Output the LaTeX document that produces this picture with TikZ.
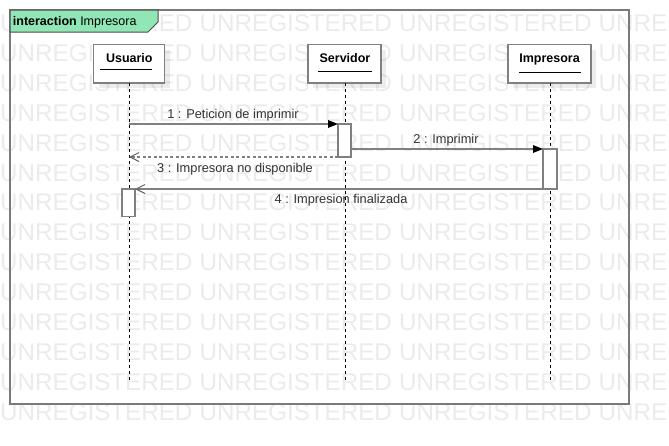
\documentclass[tikz,border=0pt]{standalone}
\usepackage{fontspec}
\setmainfont{Liberation Sans}
\usetikzlibrary{arrows.meta,shadows}
\definecolor{wmcol}{HTML}{EBEBEB}
\definecolor{hdr}{RGB}{144,230,180}
\definecolor{edge}{HTML}{808080}
\definecolor{lbl}{HTML}{333333}
\begin{document}
\begin{tikzpicture}[x=1pt,y=-1pt,
  wmark/.style={anchor=base west,inner sep=0pt,text=wmcol,font=\fontsize{24.2}{24}\selectfont},
  headbox/.style={draw=edge,line width=1.8pt,fill=white,inner sep=0pt,outer sep=0pt,minimum height=38.5pt,
    drop shadow={shadow xshift=5pt,shadow yshift=-5pt,opacity=0.07,fill=black}},
  headtext/.style={anchor=base,inner sep=0pt,font=\fontsize{12.5}{14}\selectfont\bfseries,text=black},
  uline/.style={draw=black,line width=0.9pt},
  life/.style={draw=black,line width=1pt,dash pattern=on 3pt off 3pt},
  actbox/.style={draw=edge,line width=1.8pt,fill=white,inner sep=0pt,outer sep=0pt},
  msg/.style={draw=edge,line width=1.5pt},
  filledtip/.style={-{Triangle[length=10pt,width=7.5pt,color=black]}},
  opentip/.style={-{Straight Barb[length=9pt,width=9pt,line width=1pt,color=lbl!80]}},
  msglabel/.style={anchor=base,inner sep=0pt,text=lbl,font=\fontsize{12.8}{14}\selectfont}]
\useasboundingbox (0,0) rectangle (669,445);
% watermark
\begin{scope}
\clip (0,0) rectangle (669,445);
\foreach \r in {0,...,13}{
  \foreach \c in {0,...,3}{
    \node[wmark] (wm-\r-\c) at (199.5*\c,31.5+29.9*\r) {UNREGISTERED};
  }
}
\end{scope}
% frame
\draw[draw=edge!95!black,line width=2pt] (10,10) rectangle (629,404);
\draw[fill=hdr,draw=black!70,line width=1pt] (10,10) -- (158,10) -- (158,22) -- (148,32) -- (10,32) -- cycle;
\node[anchor=base west,inner sep=0pt,font=\fontsize{12.5}{14}\selectfont] (title) at (12.7,25) {\textbf{interaction} Impresora};
% lifeline ends
\coordinate (uend) at (129,381);
\coordinate (send) at (345,381);
\coordinate (iend) at (550,381);
% heads
\node[headbox,minimum width=71pt] (uh) at (129,63.75) {};
\node[headbox,minimum width=73pt] (sh) at (344.5,63.75) {};
\node[headbox,minimum width=83pt] (ih) at (549.5,63.75) {};
\node[headtext] (ut) at (129.3,62) {Usuario};
\node[headtext] (st) at (345,62) {Servidor};
\node[headtext] (it) at (549.5,62.5) {Impresora};
\draw[uline] (100,69.5) -- (152,69.5);
\draw[uline] (318,71.5) -- (372,71.5);
\draw[uline] (519,72.5) -- (581,72.5);
% lifelines
\draw[life] (uh.south -| uend) -- (uend);
\draw[life] (sh.south -| send) -- (send);
\draw[life] (ih.south -| iend) -- (iend);
% activations
\node[actbox,minimum width=13pt,minimum height=33pt] (as) at (344.5,140.5) {};
\node[actbox,minimum width=14pt,minimum height=40pt] (ai) at (550,169) {};
\node[actbox,minimum width=13pt,minimum height=27.5pt] (au) at (128.5,202.75) {};
% messages
\draw[msg,filledtip] (uend |- as.north west) -- (as.north west);
\draw[msg,filledtip] (as.east |- ai.north west) -- (ai.north west);
\draw[msg,opentip,dash pattern=on 3pt off 2.5pt] (as.south west) -- (uend |- as.south west);
\draw[msg,opentip] (ai.south west) -- (au.north east);
% labels
\node[msglabel] (l1) at (233,118) {1 : Peticion de imprimir};
\node[msglabel] (l2) at (446,143) {2 : Imprimir};
\node[msglabel] (l3) at (235,172) {3 : Impresora no disponible};
\node[msglabel] (l4) at (341,203) {4 : Impresion finalizada};
\end{tikzpicture}
\end{document}
